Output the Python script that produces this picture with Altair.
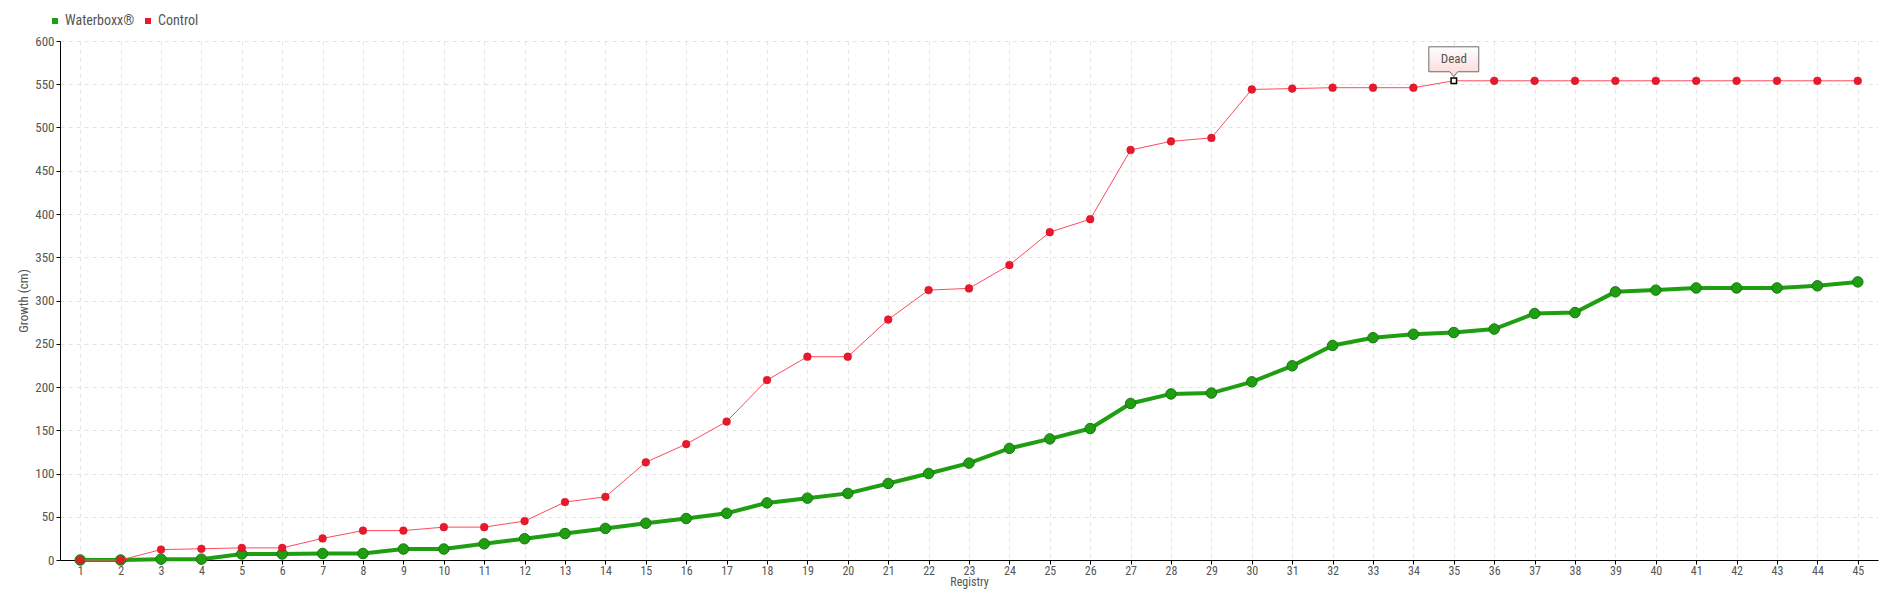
import altair as alt
import pandas as pd

registry = list(range(1, 46))
waterboxx = [0, 0, 1, 1, 7, 7, 7.5, 7.5, 12.7, 12.7,
             18.7, 24.6, 30.6, 36.5, 42.5, 48, 54, 66, 71.5, 77,
             88.5, 100, 112, 129, 140, 152, 181, 192, 193, 206,
             224.5, 248, 257, 261, 263, 267, 285, 286, 310, 312,
             314.5, 314.5, 314.5, 317, 321.5]
control = [0, 0, 12, 13, 14, 14, 25, 34, 34, 38,
           38, 45, 67, 73, 113, 134, 160, 208, 235, 235,
           278, 312, 314, 341, 379, 394, 474, 484, 488, 544,
           545, 546, 546, 546, 554, 554, 554, 554, 554, 554,
           554, 554, 554, 554, 554]
series_names = ["Waterboxx®", "Control"]
dead_registry = 35
dead_label = "Dead"

FONT = "Liberation Sans Narrow, Roboto Condensed, DejaVu Sans Condensed, Roboto, sans-serif"
GREEN = "#1f9e12"
GREEN_DARK = "#16780f"
RED = "#e8192c"
RED_LINE = "#ff4a5c"

df = pd.DataFrame({
    "Registry": registry * 2,
    "Growth": waterboxx + control,
    "Series": [series_names[0]] * len(registry) + [series_names[1]] * len(registry),
})
dead_df = pd.DataFrame({
    "Registry": [dead_registry],
    "Growth": [control[registry.index(dead_registry)]],
    "label": [dead_label],
})

x = alt.X("Registry:O", scale=alt.Scale(type="point", padding=0.5),
          axis=alt.Axis(title="Registry", labelAngle=0))
y = alt.Y("Growth:Q", scale=alt.Scale(domain=[0, 600], nice=False),
          axis=alt.Axis(title="Growth (cm)", values=list(range(0, 601, 50))))
color = alt.Color("Series:N", scale=alt.Scale(domain=series_names, range=[GREEN, RED]),
                  legend=alt.Legend(title=None, orient="none", legendX=-12, legendY=-27,
                                    direction="horizontal", symbolType="square",
                                    symbolSize=36, labelFontSize=14, labelColor="#555",
                                    labelFont=FONT, columnPadding=6, labelOffset=3,
                                    symbolStrokeWidth=0))

base = alt.Chart(df)

g_line = base.transform_filter(alt.datum.Series == series_names[0]).mark_line(
    color=GREEN, strokeWidth=4).encode(x=x, y=y)
g_pts = base.transform_filter(alt.datum.Series == series_names[0]).mark_point(
    filled=True, size=110, stroke=GREEN_DARK, strokeWidth=1, opacity=1).encode(x=x, y=y, color=color)
r_line = base.transform_filter(alt.datum.Series == series_names[1]).mark_line(
    color=RED_LINE, strokeWidth=1).encode(x=x, y=y)
r_pts = base.transform_filter(
    (alt.datum.Series == series_names[1]) & (alt.datum.Registry != dead_registry)
).mark_point(filled=True, size=60, opacity=1, stroke="#d01020", strokeWidth=0.5).encode(
    x=x, y=y, color=alt.Color("Series:N", scale=alt.Scale(domain=series_names, range=[GREEN, RED]), legend=None))

dead_base = alt.Chart(dead_df)
dead_pt = dead_base.mark_point(shape="square", filled=True, fill="white", stroke="black",
                               strokeWidth=1.5, size=30, opacity=1).encode(x=x, y=y)
callout = dead_base.mark_point(
    shape="M-0.96,-0.48 L0.96,-0.48 L0.96,0.48 L0.15,0.48 L0,0.67 L-0.15,0.48 L-0.96,0.48 Z",
    size=2704, filled=True, opacity=1, stroke="#6b6b6b", strokeWidth=1, yOffset=-21.5,
    fill=alt.Gradient(gradient="linear",
                      stops=[alt.GradientStop(color="#ffffff", offset=0),
                             alt.GradientStop(color="#fbd6d6", offset=1)],
                      x1=0, x2=0, y1=0, y2=1),
).encode(x=x, y=y)
callout_text = dead_base.mark_text(font=FONT, fontSize=13, color="#555", yOffset=-21.5,
                                   baseline="middle", align="center").encode(
    x=x, y=y, text="label:N")

chart = alt.layer(g_line, g_pts, r_line, r_pts, dead_pt, callout, callout_text).properties(
    width=1818, height=519,
    padding={"left": 52, "top": 33, "right": 14, "bottom": 32},
    autosize=alt.AutoSizeParams(type="none"),
).configure_view(stroke=None).configure_axis(
    grid=True, gridColor="#e4e4e4", gridDash=[4, 4], gridWidth=1,
    domainColor="black", domainWidth=1, tickColor="black", tickSize=4,
    labelFont=FONT, labelFontSize=13, labelColor="#555",
    titleFont=FONT, titleFontSize=13, titleColor="#555", titleFontWeight="normal",
).configure_axisX(labelPadding=1, labelFontSize=12, titlePadding=0, titleFontSize=12).configure_axisY(
    labelPadding=2, titlePadding=4)

chart.save("out.html", embed_options={"renderer": "svg", "actions": False})
